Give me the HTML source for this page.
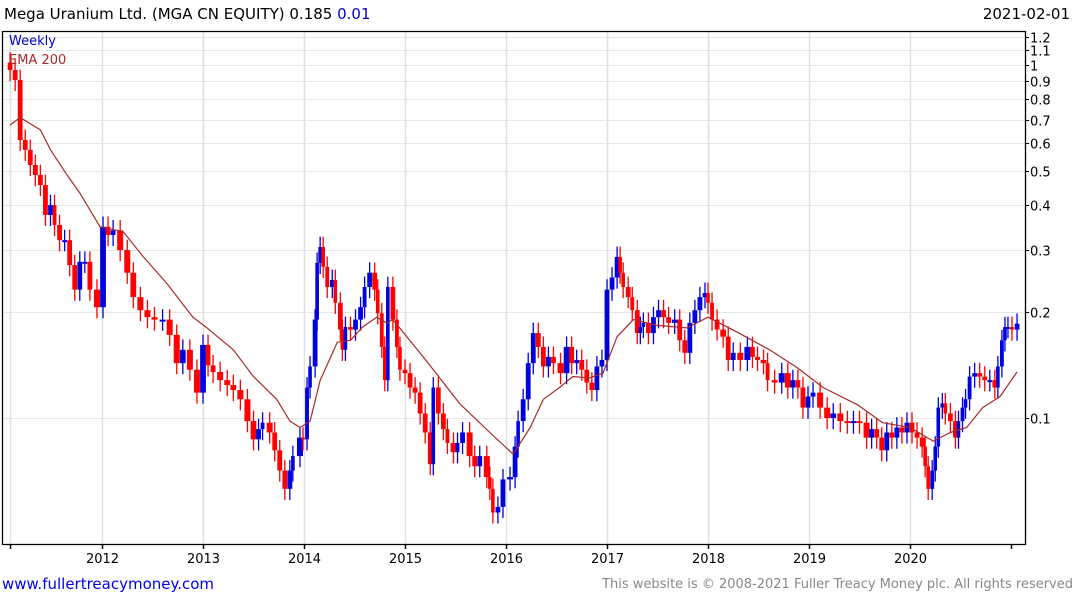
<!DOCTYPE html>
<html><head><meta charset="utf-8"><style>
html,body{margin:0;padding:0;background:#fff;}
body{width:1075px;height:600px;overflow:hidden;position:relative;font-family:"DejaVu Sans","Liberation Sans",sans-serif;}
.t{position:absolute;white-space:nowrap;}
</style></head><body>
<div class="t" style="left:4px;top:5px;font-size:15px;color:#000;">Mega Uranium Ltd. (MGA CN EQUITY) 0.185 <span style="color:#0000cc">0.01</span></div>
<div class="t" style="right:5px;top:5px;font-size:15px;color:#000;">2021-02-01</div>
<div class="t" style="left:2px;top:575px;font-size:15px;color:#0000ee;">www.fullertreacymoney.com</div>
<div class="t" style="right:2px;top:577px;font-size:13px;color:#888;">This website is © 2008-2021 Fuller Treacy Money plc. All rights reserved</div>
<svg id="chart" width="1075" height="600" style="position:absolute;left:0;top:0;">
<g id="grid"></g><g id="bars"></g><g id="ema"></g><g id="axes"></g>
</svg>
<script>
const dates=[2011.09,2011.14,2011.19,2011.24,2011.29,2011.34,2011.39,2011.44,2011.49,2011.53,2011.58,2011.63,2011.68,2011.73,2011.78,2011.83,2011.88,2011.95,2012.01,2012.06,2012.11,2012.18,2012.25,2012.31,2012.38,2012.45,2012.52,2012.60,2012.67,2012.74,2012.80,2012.87,2012.94,2013.00,2013.05,2013.10,2013.17,2013.24,2013.30,2013.37,2013.44,2013.50,2013.55,2013.59,2013.66,2013.71,2013.76,2013.81,2013.86,2013.89,2013.96,2013.99,2014.03,2014.06,2014.11,2014.13,2014.16,2014.19,2014.23,2014.28,2014.31,2014.36,2014.38,2014.41,2014.46,2014.51,2014.56,2014.60,2014.65,2014.70,2014.73,2014.77,2014.80,2014.83,2014.88,2014.92,2014.95,2015.00,2015.05,2015.10,2015.15,2015.20,2015.25,2015.28,2015.33,2015.38,2015.42,2015.48,2015.52,2015.57,2015.64,2015.69,2015.74,2015.81,2015.84,2015.87,2015.92,2015.97,2016.04,2016.09,2016.12,2016.17,2016.22,2016.27,2016.32,2016.37,2016.42,2016.47,2016.54,2016.60,2016.65,2016.70,2016.75,2016.80,2016.85,2016.90,2016.95,2017.00,2017.05,2017.10,2017.13,2017.16,2017.21,2017.25,2017.30,2017.33,2017.36,2017.41,2017.46,2017.51,2017.56,2017.61,2017.67,2017.72,2017.77,2017.82,2017.87,2017.92,2017.97,2018.00,2018.04,2018.09,2018.15,2018.20,2018.25,2018.32,2018.39,2018.44,2018.49,2018.55,2018.59,2018.66,2018.73,2018.79,2018.84,2018.89,2018.94,2018.99,2019.04,2019.11,2019.18,2019.24,2019.31,2019.38,2019.44,2019.50,2019.57,2019.62,2019.67,2019.72,2019.77,2019.82,2019.87,2019.92,2019.97,2020.02,2020.07,2020.12,2020.15,2020.18,2020.22,2020.25,2020.28,2020.32,2020.35,2020.40,2020.45,2020.48,2020.52,2020.55,2020.59,2020.64,2020.69,2020.74,2020.79,2020.84,2020.87,2020.91,2020.94,2020.97,2021.01,2021.06];
const closes=[0.968,0.907,0.613,0.575,0.521,0.488,0.457,0.376,0.401,0.352,0.319,0.319,0.271,0.231,0.277,0.277,0.231,0.206,0.348,0.330,0.340,0.299,0.258,0.220,0.202,0.193,0.190,0.190,0.172,0.143,0.156,0.137,0.118,0.161,0.141,0.135,0.128,0.124,0.120,0.113,0.098,0.087,0.093,0.097,0.091,0.081,0.071,0.063,0.071,0.078,0.088,0.087,0.122,0.140,0.190,0.275,0.305,0.268,0.235,0.246,0.212,0.178,0.156,0.181,0.178,0.190,0.206,0.235,0.258,0.231,0.198,0.159,0.128,0.235,0.190,0.159,0.137,0.134,0.122,0.118,0.103,0.091,0.074,0.122,0.103,0.093,0.085,0.080,0.085,0.091,0.078,0.073,0.078,0.068,0.063,0.054,0.056,0.067,0.068,0.083,0.098,0.113,0.143,0.174,0.159,0.140,0.149,0.143,0.134,0.159,0.143,0.146,0.137,0.126,0.120,0.140,0.146,0.231,0.250,0.286,0.258,0.235,0.220,0.202,0.174,0.181,0.186,0.174,0.193,0.202,0.193,0.186,0.190,0.166,0.153,0.186,0.202,0.220,0.226,0.212,0.190,0.178,0.170,0.146,0.153,0.146,0.159,0.149,0.146,0.143,0.128,0.126,0.134,0.122,0.128,0.122,0.107,0.115,0.118,0.107,0.100,0.103,0.098,0.097,0.098,0.097,0.088,0.093,0.088,0.081,0.091,0.088,0.094,0.091,0.097,0.091,0.088,0.083,0.073,0.063,0.071,0.083,0.107,0.110,0.103,0.098,0.088,0.098,0.107,0.113,0.131,0.134,0.131,0.128,0.128,0.122,0.140,0.166,0.181,0.181,0.178,0.185];
const emaDates=[2011.09,2011.19,2011.39,2011.49,2011.65,2011.78,2011.98,2012.21,2012.41,2012.64,2012.90,2013.04,2013.30,2013.50,2013.73,2013.86,2013.96,2014.06,2014.16,2014.33,2014.46,2014.58,2014.72,2014.82,2014.88,2015.18,2015.28,2015.54,2015.84,2016.07,2016.24,2016.37,2016.53,2016.66,2016.83,2016.96,2017.10,2017.26,2017.50,2017.79,2018.00,2018.29,2018.61,2018.88,2019.14,2019.48,2019.73,2020.00,2020.23,2020.40,2020.56,2020.72,2020.89,2021.06];
const emaValues=[0.676,0.71,0.655,0.575,0.49,0.434,0.348,0.337,0.286,0.241,0.193,0.18,0.156,0.131,0.113,0.098,0.094,0.098,0.128,0.164,0.166,0.181,0.193,0.186,0.19,0.149,0.137,0.11,0.091,0.079,0.094,0.113,0.122,0.131,0.13,0.134,0.17,0.19,0.183,0.18,0.193,0.175,0.156,0.139,0.122,0.109,0.097,0.094,0.086,0.091,0.094,0.107,0.115,0.135];
const yTicks=[1.2,1.1,1,0.9,0.8,0.7,0.6,0.5,0.4,0.3,0.2,0.1];
const yTickLabels=["1.2","1.1","1","0.9","0.8","0.7","0.6","0.5","0.4","0.3","0.2","0.1"];
const xYears=[2012,2013,2014,2015,2016,2017,2018,2019,2020];

const NS="http://www.w3.org/2000/svg";
const L=2,R=1025,T=31,B=544;
function xs(d){return 1+101*(d-2011);}
function ys(v){return 65-353*Math.log10(v);}
function mk(tag,attrs,parent){const e=document.createElementNS(NS,tag);for(const k in attrs)e.setAttribute(k,attrs[k]);parent.appendChild(e);return e;}
const grid=document.getElementById('grid'),bars=document.getElementById('bars'),emaG=document.getElementById('ema'),axes=document.getElementById('axes');

yTicks.forEach((v,i)=>{
  const y=Math.round(ys(v))+0.5;
  const g=mk('line',{x1:L,x2:R,y1:y,y2:y,stroke:'#e6e6e6','stroke-width':1},grid);
  
  
  const tk=mk('line',{x1:R,x2:R+4,y1:y,y2:y,stroke:'#000','stroke-width':1},axes);
  
  
  const t=mk('text',{x:R+5,y:y+5,'font-size':13,'font-family':'DejaVu Sans, Liberation Sans, sans-serif',fill:'#000'},axes);
  t.textContent=yTickLabels[i];
  
  
});
[dates[0]].concat(xYears).forEach((yr,i)=>{
  const x=Math.round(xs(yr))+0.5;
  const g=mk('line',{x1:x,x2:x,y1:T,y2:B,stroke:'#e0e0e0','stroke-width':1.5},grid);
  
  
  const tk=mk('line',{x1:x,x2:x,y1:B,y2:B+5,stroke:'#000','stroke-width':1.5},axes);
  
  
  if(i>0){
    const t=mk('text',{x:x,y:563,'font-size':13,'text-anchor':'middle','font-family':'DejaVu Sans, Liberation Sans, sans-serif',fill:'#000'},axes);
    t.textContent=String(yr);
    
    
  }
});
const endTick=mk('line',{x1:xs(2021)+0.5,x2:xs(2021)+0.5,y1:B,y2:B+5,stroke:'#000','stroke-width':1.5},axes);



for(let i=0;i<closes.length;i++){
  const c=closes[i],o=i>0?closes[i-1]:c*1.05;
  const x=xs(dates[i]);
  const gap=i>0?x-xs(dates[i-1]):5;
  const bw=Math.min(6,Math.max(3.6,gap*0.95));
  const up=c>=o;
  const col=up?'#0000dd':'#ff0000';
  const hi=Math.max(o,c)*1.07,lo=Math.min(o,c)*0.93;
  const w=mk('line',{x1:x,x2:x,y1:ys(hi),y2:ys(lo),stroke:col,'stroke-width':1.3},bars);
  
  
  const y1=ys(Math.max(o,c)),y2=ys(Math.min(o,c));
  const r=mk('rect',{x:x-bw/2,y:y1,width:bw,height:Math.max(2,y2-y1),fill:col},bars);
  
  
}
let d='';
emaDates.forEach((t,i)=>{d+=(i?'L':'M')+xs(t).toFixed(1)+','+ys(emaValues[i]).toFixed(1);});
const p=mk('path',{d:d,fill:'none',stroke:'#a52a2a','stroke-width':1.2,'stroke-linejoin':'round'},emaG);



const frame=mk('path',{d:`M${L+0.5},${T}V${B+0.5}H${R+0.5}V${T+0.5}H${L+0.5}`,fill:'none',stroke:'#000','stroke-width':1.3},axes);


const lg1=mk('text',{x:9,y:45,'font-size':13,fill:'#0000cc','font-family':'DejaVu Sans, Liberation Sans, sans-serif'},axes);
lg1.textContent='Weekly';


const lg2=mk('text',{x:9,y:64,'font-size':13,fill:'#a52a2a','font-family':'DejaVu Sans, Liberation Sans, sans-serif'},axes);
lg2.textContent='EMA 200';


</script>
</body></html>
